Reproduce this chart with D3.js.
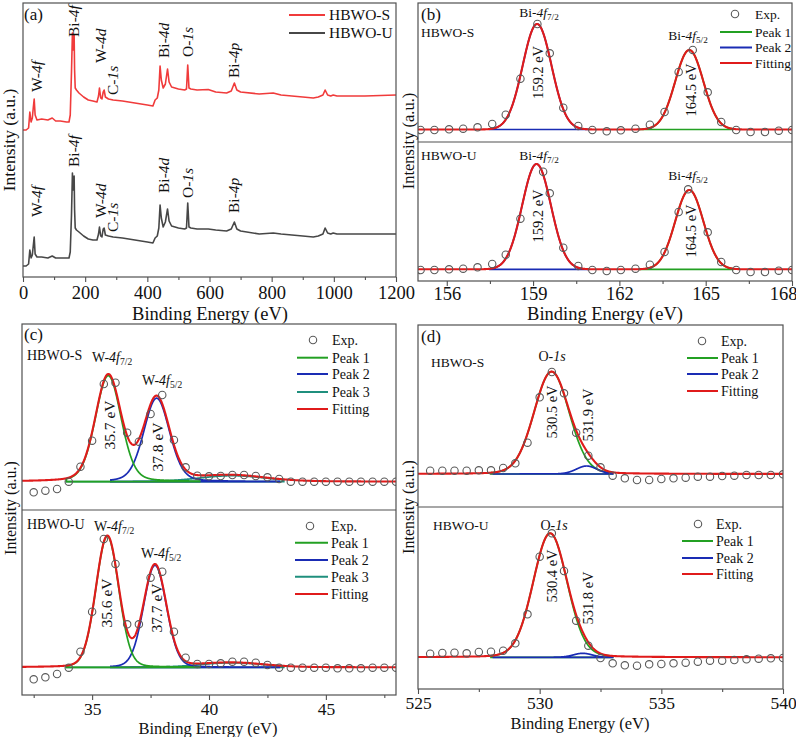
<!DOCTYPE html>
<html><head><meta charset="utf-8">
<script src="https://cdn.jsdelivr.net/npm/d3@7"></script>
<style>
body{margin:0;background:#fff}
svg{display:block}
text{font-family:"Liberation Serif","Times New Roman",Times,serif;fill:#111}
</style>
</head><body><svg id="c" width="796" height="737"></svg>
<script>
// ---------------- DATA ----------------
// (a) survey spectra
const surveyBE = [0,10,18,22,26,30,33,36,39,45,60,80,94,105,120,140,148,152,156,159,161,162,164.5,166,168,172,180,195,210,225,238,243,246,250,254,258,261,265,275,290,320,360,400,418,425,432,437,441,445,451,458,465,470,478,500,520,526,530,534,540,560,596,620,655,670,680,688,700,760,805,830,900,934,950,965,972,980,990,998,1010,1100,1200];
const surveyS = [147,147,149,165,155,159,169,178,162,157,158,157,159,156,156,155,155,162,205,244,227,232,242,207,189,187,184,180,177,176,175,181,189,179,178,185,187,180,178,177,176,174,172,171,177,179,187,211,197,189,193,208,195,190,188,187,188,212,189,188,187,187.5,185,184,186,194,187,185,183,184,182,180,179,180,182,187,182,181,182,181,181,182];
const surveyU = [11,11,13,27,19,22,31,40,23,20,20,19,21,19,19,19,19,25,62,104,87,92,101,67,49,47,45,41,38,37,37,43,50,41,40,48,49,42,41,40,39,37,35,34,39,41,49,72,59,50,55,68,56,51,49,48,49,74,50,49,48,48,47,46,48,55,48,46,43,44,43,41,40,41,43,49,44,43,44,43,43,43];
const surveyMajor = [0,200,400,600,800,1000,1200];
const surveyMinor = [100,300,500,700,900,1100];
const surveyNames = ["HBWO-S","HBWO-U"];

// (b) Bi 4f
const biBE_S = [155.09,155.57,156.08,156.57,157.07,157.58,158.05,158.56,159.15,159.58,160.05,160.57,161.06,161.56,162.05,162.56,163.06,163.57,164.06,164.55,165.07,165.54,166.06,166.56,167.06,167.54,168.0];
const biExp_S = [12,12,12.7,13.3,14.7,18,27.3,63.3,118,88.7,34.3,16,12,10.7,11.7,13.3,17.3,30,70,92,49.7,20,12,10,10,11.3,12];
const biBE_U = [155.09,155.57,156.08,156.57,157.07,157.58,158.05,158.56,159.35,159.58,160.05,160.57,161.06,161.56,162.05,162.56,163.06,163.57,164.06,164.39,165.07,165.54,166.06,166.56,167.06,167.54,168.0];
const biExp_U = [11,11,11.7,12.3,13.7,17,26.3,62.3,109.3,87.7,33.3,15,11,10,11,12.3,16.3,29,69,91.7,48.7,19,11,9,9,10.3,11];
// fitted peaks [Peak 1, Peak 2]
const biCenter_S = [164.43,159.14], biHeight_S = [79.5,105.5], biFwhm_S = [1.15,1.18], biBg_S = 12.5;
const biCenter_U = [164.43,159.12], biHeight_U = [79.3,105.3], biFwhm_U = [1.15,1.18], biBg_U = 11.7;
const biRange = [[162.7,165.95],[157.5,160.9]];
const biMajor = [156,159,162,165,168], biMinor = [157.5,160.5,163.5,166.5];

// (c) W 4f
const wBE = [32.5,33,33.5,34,34.5,35,35.5,36,36.5,37,37.5,38,38.5,39,39.5,40,40.5,41,41.5,42,42.5,43,43.5,44,44.5,45,45.5,46,46.5,47,47.5,48];
const wExp_S = [17.7,19.3,21,28.3,43.3,69.3,126,127.3,77.3,68.3,96,115,70,42.7,34.3,33.7,34,35,35,34,32.7,31,28.3,28.3,28.3,28.3,28.3,28.3,28.3,28.3,28.3,28.3];
const wExp_U = [15.7,17.7,21,27.3,43.3,83.3,156,131,70.7,70.7,117.3,123.3,63.3,37.3,31,31,31.7,33.3,33.3,32.3,30,27.3,27.3,27.3,27.3,27.3,26.7,26.7,26.7,27.3,27.3,27.3];
const wCenter_S = [35.69,37.76,41.0], wHeight_S = [106,83.5,6], wFwhm_S = [1.3,1.3,3.4], wBg_S = 28.3;
const wCenter_U = [35.65,37.69,41.0], wHeight_U = [131,102,4.5], wFwhm_U = [1.15,1.15,3.2], wBg_U = 27.7;
const wRange = [[33.9,39.6],[35.8,43.0],[33.9,43.2]];
const wMajor = [35,40,45], wMinor = [32.5,37.5,42.5,47.5];

// (d) O 1s
const oBE = [525.5,526,526.5,527,527.5,528,528.5,529,529.5,530,530.5,531,531.5,532,532.5,533,533.5,534,534.5,535,535.5,536,536.5,537,537.5,538,538.5,539,539.5,540];
const oExp_S = [36.3,36.3,36.3,36.3,36.7,36.7,39,43.7,64.3,109.7,135,113.7,74.3,51.3,39.7,31.3,28.7,27,27,28,28.7,29.3,30.3,30.3,31,31.3,32,32,32,32.7];
const oExp_U = [35.3,36,36.3,35.7,37,37.3,38.3,45.7,74.7,132.3,155.7,118,68.3,43.3,31,25.7,23.7,23.3,24.7,25,25.7,26.3,27.3,28.3,28.3,29,29.7,30.3,30.7,31];
const oCenter_S = [530.49,531.93], oHeight_S = [102.3,8], oFwhm_S = [1.7,1.0], oBg_S = 33;
const oCenter_U = [530.43,531.77], oHeight_U = [124,4], oFwhm_U = [1.65,0.9], oBg_U = 31.7;
const oRange = [[528.0,533.0],[528.1,533.0]];
const oMajor = [525,530,535,540], oMinor = [527.5,532.5,537.5];

const legendLabels = ["Exp.","Peak 1","Peak 2","Peak 3","Fitting"];

// ---------------- DRAW ----------------
const svg = d3.select("#c");
const COL = {S:"#f03b3b",U:"#474747",exp:"#595959",fit:"#e01b1b",p:["#23a023","#1a2cb4","#1f8f7d"],frame:"#505050"};
let clipN = 0;

function frame(b){
  svg.append("rect").attr("x",b.x0).attr("y",b.y0).attr("width",b.x1-b.x0).attr("height",b.y1-b.y0)
    .attr("fill","none").attr("stroke",COL.frame).attr("stroke-width",1.2);
}
function divider(b,y){
  svg.append("line").attr("x1",b.x0).attr("x2",b.x1).attr("y1",y).attr("y2",y).attr("stroke",COL.frame).attr("stroke-width",1.2);
}
function bottomAxis(x,b,major,minor,fs,pad,lastShift){
  const g1 = svg.append("g").attr("transform",`translate(0,${b.y1})`)
    .call(d3.axisBottom(x).tickValues(minor).tickSize(3).tickFormat(""));
  const g2 = svg.append("g").attr("transform",`translate(0,${b.y1})`)
    .call(d3.axisBottom(x).tickValues(major).tickSize(5).tickPadding(pad).tickFormat(d3.format("d")));
  [g1,g2].forEach(g=>{
    g.select(".domain").remove();
    g.selectAll("line").attr("stroke",COL.frame).attr("stroke-width",1.1);
    g.selectAll("text").style("font-family",'"Liberation Serif","Times New Roman",serif').style("font-size",fs+"px").attr("fill","#111");
  });
  if(lastShift){
    g2.selectAll(".tick").filter(d=>d===major[major.length-1]).select("text").attr("x",lastShift);
  }
}
function txt(x,y,s,fs,anchor,rot){
  const t = svg.append("text").attr("font-size",fs).attr("text-anchor",anchor||"start");
  if(rot){ t.attr("transform",`translate(${x},${y}) rotate(-90)`).attr("dy","0.35em"); }
  else { t.attr("x",x).attr("y",y).attr("dy","0.35em"); }
  s.forEach(p=>{
    const ts = t.append("tspan").text(p[0]);
    if(p[1]==="i") ts.attr("font-style","italic");
    if(p[1]==="s") ts.attr("font-size",fs*0.68).attr("dy","0.32em");
  });
  return t;
}
function clip(b0,b1){
  const id="clp"+(clipN++);
  svg.append("clipPath").attr("id",id).append("rect")
    .attr("x",b0.x0).attr("y",b0.y).attr("width",b0.x1-b0.x0).attr("height",b1-b0.y);
  return id;
}
function pv(e,c,h,f,m){ const d=(e-c)/f; return h*((1-m)*Math.exp(-4*Math.LN2*d*d)+m/(1+4*d*d)); }

function xpsSub(o){
  const {x,y,be,exp,centers,heights,fwhm,ranges,bg,mix,order,clipId} = o;
  const g = svg.append("g").attr("clip-path",`url(#${clipId})`);
  const model = e => bg + centers.reduce((s,c,i)=>s+pv(e,c,heights[i],fwhm[i],mix),0);
  const line = d3.line();
  order.forEach(i=>{
    const r = ranges[i];
    const pts = d3.range(r[0], r[1]+1e-9, 0.01).map(e=>[x(e), y(bg+pv(e,centers[i],heights[i],fwhm[i],mix))]);
    pts.push([x(r[1]),y(bg)]); pts.push([x(r[0]),y(bg)]);
    g.append("path").attr("d",line(pts)+"Z").attr("fill","none").attr("stroke",COL.p[i]).attr("stroke-width",1.7);
  });
  const d0 = x.domain();
  const fit = d3.range(d0[0], d0[1]+1e-9, 0.01).map(e=>[x(e),y(model(e))]);
  g.append("path").attr("d",line(fit)).attr("fill","none").attr("stroke",COL.fit).attr("stroke-width",2.1);
  g.selectAll("circle.e").data(be).join("circle").attr("class","e")
    .attr("cx",d=>x(d)).attr("cy",(d,i)=>y(exp[i])).attr("r",3.7)
    .attr("fill","none").attr("stroke",COL.exp).attr("stroke-width",1.1);
}
function legend(cx,lx0,lx1,tx,ys,entries,fs){
  entries.forEach((k,j)=>{
    const yy = ys[j];
    if(k===0){
      svg.append("circle").attr("cx",cx).attr("cy",yy).attr("r",3.7).attr("fill","none").attr("stroke",COL.exp).attr("stroke-width",1.1);
    } else {
      const c = k===4 ? COL.fit : COL.p[k-1];
      svg.append("line").attr("x1",lx0).attr("x2",lx1).attr("y1",yy).attr("y2",yy).attr("stroke",c).attr("stroke-width",2);
    }
    txt(tx,yy,[[legendLabels[k],""]],fs,"start");
  });
}

// ===== Panel (a) =====
const A = {x0:23,x1:396,y0:3,y1:277};
const xa = d3.scaleLinear().domain([0,1200]).range([A.x0,A.x1]);
const ya = d3.scaleLinear().domain([0,274]).range([A.y1,A.y0]);
const lineA = d3.line().x((d,i)=>xa(surveyBE[i])).y(d=>ya(d));
svg.append("path").attr("d",lineA(surveyU)).attr("fill","none").attr("stroke",COL.U).attr("stroke-width",1.6).attr("stroke-linejoin","round");
svg.append("path").attr("d",lineA(surveyS)).attr("fill","none").attr("stroke",COL.S).attr("stroke-width",1.6).attr("stroke-linejoin","round");
frame(A);
bottomAxis(xa,A,surveyMajor,surveyMinor,18.5,4);
txt(24,14,[["(a)",""]],17,"start");
[[COL.S,15,surveyNames[0]],[COL.U,33,surveyNames[1]]].forEach(d=>{
  svg.append("line").attr("x1",289).attr("x2",325).attr("y1",d[1]).attr("y2",d[1]).attr("stroke",d[0]).attr("stroke-width",2);
  txt(329,d[1],[[d[2],""]],15.5,"start");
});
const surveyLabels = [
  [37,92,217,[["W-",""],["4f","i"]]],
  [74,37,167,[["Bi-",""],["4f","i"]]],
  [101,63,218,[["W-",""],["4d","i"]]],
  [113,95,232,[["C-",""],["1s","i"]]],
  [164,58,193,[["Bi-",""],["4d","i"]]],
  [188,57,198,[["O-",""],["1s","i"]]],
  [234,78,213,[["Bi-",""],["4p","i"]]]
];
surveyLabels.forEach(l=>{ txt(l[0],l[1],l[3],15.5,"start",true); txt(l[0],l[2],l[3],15.5,"start",true); });
txt(210,314,[["Binding Energy (eV)",""]],18.5,"middle");
txt(9,140,[["Intensity (a.u.)",""]],17.5,"middle",true);

// ===== Panel (b) =====
const B = {x0:418,x1:792,y0:3,ym:142,y1:281};
const xb = d3.scaleLinear().domain([155,168]).range([B.x0,B.x1]);
const ybS = d3.scaleLinear().domain([0,B.ym-B.y0]).range([B.ym,B.y0]);
const ybU = d3.scaleLinear().domain([0,B.y1-B.ym]).range([B.y1,B.ym]);
xpsSub({x:xb,y:ybS,be:biBE_S,exp:biExp_S,centers:biCenter_S,heights:biHeight_S,fwhm:biFwhm_S,ranges:biRange,bg:biBg_S,mix:0,order:[0,1],clipId:clip({x0:B.x0,x1:B.x1,y:B.y0},B.ym)});
xpsSub({x:xb,y:ybU,be:biBE_U,exp:biExp_U,centers:biCenter_U,heights:biHeight_U,fwhm:biFwhm_U,ranges:biRange,bg:biBg_U,mix:0,order:[0,1],clipId:clip({x0:B.x0,x1:B.x1,y:B.ym},B.y1)});
frame(B); divider(B,B.ym);
bottomAxis(xb,B,biMajor,biMinor,18.5,1,-9);
txt(421,14,[["(b)",""]],17,"start");
legend(735,720,752,755,[14,32,47.5,63],[0,1,2,4],13.5);
txt(421,32,[["HBWO-S",""]],13.5,"start");
txt(421,155,[["HBWO-U",""]],13.5,"start");
[[12,35],[155,175]].forEach(p=>{
  txt(539,p[0],[["Bi-",""],["4f","i"],["7/2","s"]],13.5,"middle");
  txt(688,p[1],[["Bi-",""],["4f","i"],["5/2","s"]],13.5,"middle");
});
txt(538,72.5,[["159.2 eV",""]],14.5,"middle",true);
txt(691,90,[["164.5 eV",""]],14.5,"middle",true);
txt(538,216,[["159.2 eV",""]],14.5,"middle",true);
txt(691,231,[["164.5 eV",""]],14.5,"middle",true);
txt(605,314,[["Binding Energy (eV)",""]],18.5,"middle");
txt(408,141,[["Intensity (a.u.)",""]],16.5,"middle",true);

// ===== Panel (c) =====
const C = {x0:22,x1:396,y0:324,ym:510,y1:695};
const xc = d3.scaleLinear().domain([32,48]).range([C.x0,C.x1]);
const ycS = d3.scaleLinear().domain([0,C.ym-C.y0]).range([C.ym,C.y0]);
const ycU = d3.scaleLinear().domain([0,C.y1-C.ym]).range([C.y1,C.ym]);
xpsSub({x:xc,y:ycS,be:wBE,exp:wExp_S,centers:wCenter_S,heights:wHeight_S,fwhm:wFwhm_S,ranges:wRange,bg:wBg_S,mix:0.2,order:[2,1,0],clipId:clip({x0:C.x0,x1:C.x1,y:C.y0},C.ym)});
xpsSub({x:xc,y:ycU,be:wBE,exp:wExp_U,centers:wCenter_U,heights:wHeight_U,fwhm:wFwhm_U,ranges:wRange,bg:wBg_U,mix:0.1,order:[2,1,0],clipId:clip({x0:C.x0,x1:C.x1,y:C.ym},C.y1)});
frame(C); divider(C,C.ym);
bottomAxis(xc,C,wMajor,wMinor,17.5,3);
txt(24,334,[["(c)",""]],17,"start");
legend(313,297,328,332,[340,357.7,374,392,409],[0,1,2,3,4],14);
legend(310,295,328,331,[526,542.7,560,576.7,594],[0,1,2,3,4],14);
txt(27,355,[["HBWO-S",""]],14,"start");
txt(27,524,[["HBWO-U",""]],14,"start");
txt(92,357,[["W-",""],["4f","i"],["7/2","s"]],14,"start");
txt(142,380,[["W-",""],["4f","i"],["5/2","s"]],14,"start");
txt(94,526,[["W-",""],["4f","i"],["7/2","s"]],14,"start");
txt(141,553,[["W-",""],["4f","i"],["5/2","s"]],14,"start");
txt(110,425,[["35.7 eV",""]],15.5,"middle",true);
txt(158,447,[["37.8 eV",""]],15.5,"middle",true);
txt(107,603,[["35.6 eV",""]],15.5,"middle",true);
txt(157,608,[["37.7 eV",""]],15.5,"middle",true);
txt(208,728,[["Binding Energy (eV)",""]],16.5,"middle");
txt(10,508,[["Intensity (a.u.)",""]],16,"middle",true);

// ===== Panel (d) =====
const D = {x0:418,x1:783,y0:325,ym:507,y1:689};
const xd = d3.scaleLinear().domain([525,540]).range([D.x0,D.x1]);
const ydS = d3.scaleLinear().domain([0,D.ym-D.y0]).range([D.ym,D.y0]);
const ydU = d3.scaleLinear().domain([0,D.y1-D.ym]).range([D.y1,D.ym]);
xpsSub({x:xd,y:ydS,be:oBE,exp:oExp_S,centers:oCenter_S,heights:oHeight_S,fwhm:oFwhm_S,ranges:oRange,bg:oBg_S,mix:0.1,order:[0,1],clipId:clip({x0:D.x0,x1:D.x1,y:D.y0},D.ym)});
xpsSub({x:xd,y:ydU,be:oBE,exp:oExp_U,centers:oCenter_U,heights:oHeight_U,fwhm:oFwhm_U,ranges:oRange,bg:oBg_U,mix:0.1,order:[0,1],clipId:clip({x0:D.x0,x1:D.x1,y:D.ym},D.y1)});
frame(D); divider(D,D.ym);
bottomAxis(xd,D,oMajor,oMinor,17.5,3);
txt(421,336,[["(d)",""]],17,"start");
legend(702,687,718,721,[341,358,374,391],[0,1,2,4],14);
legend(698,682,713,716,[524,541,558,574],[0,1,2,4],14);
txt(431,362,[["HBWO-S",""]],13.5,"start");
txt(433,525,[["HBWO-U",""]],13.5,"start");
txt(552,356,[["O-",""],["1s","i"]],14,"middle");
txt(554,525,[["O-",""],["1s","i"]],14,"middle");
txt(552,412,[["530.5 eV",""]],14.5,"middle",true);
txt(588,415,[["531.9 eV",""]],14.5,"middle",true);
txt(552,576,[["530.4 eV",""]],14.5,"middle",true);
txt(588,598,[["531.8 eV",""]],14.5,"middle",true);
txt(580,723,[["Binding Energy (eV)",""]],16.5,"middle");
txt(408,507,[["Intensity (a.u.)",""]],16,"middle",true);
</script>
</body></html>
